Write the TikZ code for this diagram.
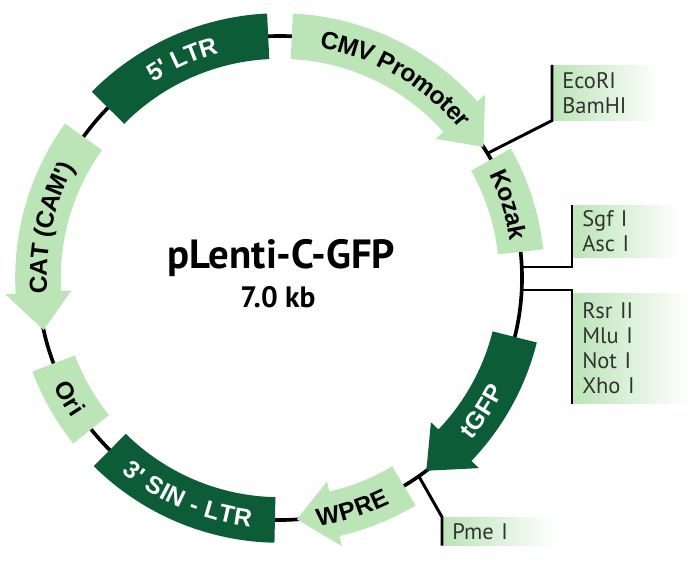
\documentclass[tikz,border=0pt]{standalone}
\usepackage{fontspec}
\setmainfont{PT Sans}
\newfontfamily\featfamily{Liberation Sans}
\usepackage{tikz}
\usetikzlibrary{decorations.text,positioning,calc}
\definecolor{pgdark}{HTML}{0C5C37}
\definecolor{pglight}{HTML}{BBE4B7}
\definecolor{pggrey}{HTML}{333333}
\newcommand{\featfont}{\featfamily\bfseries\fontsize{17.5}{17.5}\selectfont}

\begin{document}
\begin{tikzpicture}[
  backbone/.style={draw=black, line width=2.6pt},
  leader/.style={draw=black, line width=2.1pt},
  site/.style={left color=pglight, right color=white, anchor=north west, align=left,
    inner xsep=0.25cm, inner ysep=1pt, text=pggrey, font=\fontsize{16}{17.8}\selectfont},
  onlight/.style={decorate, decoration={text along path, text align=center, raise=-6.2pt,
    text={|\featfont|#1}}},
  ondark/.style={decorate, decoration={text along path, text align=center, raise=-6.2pt,
    text color=white, text={|\featfont|#1}}}]
  \def\Rm{6.05}\def\Ri{5.48}\def\Ro{6.62}\def\Hi{5.22}\def\Ho{6.88}
  \useasboundingbox (-7,-7.35) rectangle (10.5,6.95);
  \draw[backbone] (0,0) circle[radius=\Rm];
  \node[site, text width=2.2cm, minimum height=1.375cm] (ecori) at (6.8,5.325) {EcoRI\\BamHI};
  \node[site, text width=2.2cm, minimum height=1.3cm] (sgf) at (7.3,1.825) {Sgf I\\Asc I};
  \node[site, text width=2.45cm, minimum height=2.75cm] (rsr) at (7.3,-0.375) {Rsr II\\Mlu I\\Not I\\Xho I};
  \node[site, text width=2.33cm, minimum height=0.7cm] (pme) at (4.05,-5.975) {Pme I};
  \coordinate (cEco) at (31:\Rm);
  \coordinate (cSgf) at (2.6:\Rm);
  \coordinate (cRsr) at (-2.84:\Rm);
  \coordinate (cPme) at (305:\Rm);
  \draw[leader] (cEco) -- (ecori.south west) -- (ecori.north west);
  \draw[leader] (cSgf) -- (cSgf -| sgf.west) -- (sgf.north west);
  \draw[leader] (cRsr) -- (cRsr -| rsr.west) -- (rsr.south west);
  \draw[leader] (cPme) -- (pme.north west) -- (pme.south west);
  \foreach \a/\b/\c in {92.8/135.3/pgdark, 6.2/29.3/pglight, 200.7/218.7/pglight, 225.3/268.8/pgdark}
    \fill[\c] (\a:\Ri) arc[start angle=\a, end angle=\b, radius=\Ri]
      -- (\b:\Ro) arc[start angle=\b, end angle=\a, radius=\Ro] -- cycle;
  \foreach \s/\h/\t/\c in {87.2/41.8/32.8/pglight, 345.9/316.3/307.2/pgdark,
      300.8/283/274/pglight, 144.3/183.4/192.4/pglight}
    \fill[\c] (\s:\Ri) arc[start angle=\s, end angle=\h, radius=\Ri]
      -- (\h:\Hi) -- (\t:\Rm) -- (\h:\Ho)
      -- (\h:\Ro) arc[start angle=\h, end angle=\s, radius=\Ro] -- cycle;
  \path[ondark={5' LTR}] (135.3:\Rm) arc[start angle=135.3, end angle=92.8, radius=\Rm];
  \path[onlight={CMV Promoter}] (87.2:\Rm) arc[start angle=87.2, end angle=32.8, radius=\Rm];
  \path[onlight={Kozak}] (29.3:\Rm) arc[start angle=29.3, end angle=6.2, radius=\Rm];
  \path[ondark={tGFP}] (307.2:\Rm) arc[start angle=307.2, end angle=345.9, radius=\Rm];
  \path[onlight={WPRE}] (274:\Rm) arc[start angle=274, end angle=300.8, radius=\Rm];
  \path[ondark={3' SIN - LTR}] (225.3:\Rm) arc[start angle=225.3, end angle=268.8, radius=\Rm];
  \path[onlight={Ori}] (200.7:\Rm) arc[start angle=200.7, end angle=218.7, radius=\Rm];
  \path[onlight={CAT (CAM')}] (191:\Rm) arc[start angle=191, end angle=144.3, radius=\Rm];
  \node[font=\bfseries\fontsize{29}{29}\selectfont] (plasmid) at (0.03,0.5) {pLenti-C-GFP};
  \node[font=\bfseries\fontsize{21}{21}\selectfont] (size) at (-0.05,-0.47) {7.0 kb};
\end{tikzpicture}
\end{document}
